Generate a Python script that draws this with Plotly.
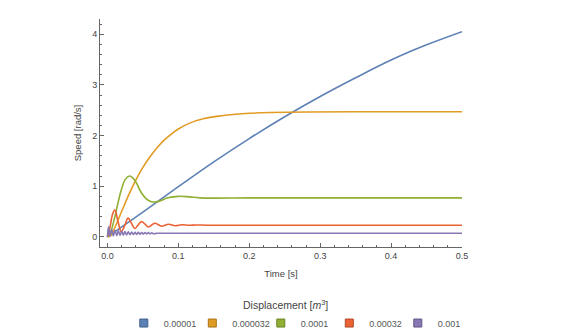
import plotly.graph_objects as go

# ---- data ----
labels = ["0.00001", "0.000032", "0.0001", "0.00032", "0.001"]
colors = ["#5E81B5", "#E19C24", "#8FB032", "#EB6235", "#8778B3"]
edge_colors = ["#3E5E8E", "#A8741A", "#6A8424", "#B04826", "#625587"]

t_blue = [0, 0.05, 0.1, 0.15, 0.2, 0.25, 0.3, 0.35, 0.4, 0.45, 0.5]
v_blue = [0, 0.49, 0.99, 1.48, 1.94, 2.37, 2.77, 3.14, 3.49, 3.79, 4.05]

t_orange = [0, 0.005, 0.01, 0.02, 0.03, 0.04, 0.05, 0.06, 0.07, 0.08, 0.09, 0.1,
            0.115, 0.135, 0.16, 0.18, 0.2, 0.23, 0.28, 0.35, 0.5]
v_orange = [0, 0.03, 0.17, 0.50, 0.83, 1.12, 1.37, 1.58, 1.76, 1.91, 2.03, 2.13,
            2.24, 2.33, 2.39, 2.42, 2.44, 2.455, 2.465, 2.47, 2.47]

t_green = [0, 0.005, 0.01, 0.015, 0.02, 0.025, 0.031, 0.036, 0.041, 0.047, 0.054,
           0.061, 0.068, 0.076, 0.085, 0.1, 0.115, 0.13, 0.15, 0.2, 0.3, 0.4, 0.5]
v_green = [0, 0.12, 0.37, 0.68, 0.95, 1.13, 1.20, 1.16, 1.06, 0.89, 0.76,
           0.70, 0.69, 0.72, 0.77, 0.80, 0.79, 0.77, 0.765, 0.77, 0.77, 0.77, 0.77]

t_red = [0, 0.004, 0.0075, 0.0105, 0.015, 0.0195, 0.024, 0.029, 0.0338, 0.0385,
         0.043, 0.048, 0.053, 0.0575, 0.062, 0.067, 0.072, 0.0765, 0.086, 0.0955,
         0.105, 0.115, 0.125, 0.14, 0.2, 0.3, 0.4, 0.5]
v_red = [0, 0.22, 0.46, 0.53, 0.30, 0.10, 0.21, 0.37, 0.27, 0.165,
         0.23, 0.30, 0.25, 0.195, 0.23, 0.27, 0.24, 0.21, 0.25, 0.22,
         0.24, 0.228, 0.235, 0.23, 0.23, 0.23, 0.23, 0.23]

t_purple = [0, 0.0015, 0.0035, 0.006, 0.0083, 0.0107, 0.013, 0.0154, 0.0177, 0.0201,
            0.0224, 0.0248, 0.0271, 0.0295, 0.0318, 0.0342, 0.0365, 0.0389, 0.0412,
            0.0436, 0.0459, 0.0483, 0.0506, 0.053, 0.0553, 0.0577, 0.06, 0.0624,
            0.0647, 0.07, 0.1, 0.2, 0.3, 0.4, 0.5]
v_purple = [0, 0.20, 0.01, 0.15, 0.02, 0.13, 0.025, 0.12, 0.03, 0.11,
            0.035, 0.105, 0.04, 0.10, 0.045, 0.095, 0.048, 0.092, 0.05,
            0.09, 0.053, 0.087, 0.055, 0.085, 0.057, 0.083, 0.06, 0.08,
            0.062, 0.07, 0.07, 0.07, 0.07, 0.07, 0.07]

series_t = [t_blue, t_orange, t_green, t_red, t_purple]
series_v = [v_blue, v_orange, v_green, v_red, v_purple]

x_ticks = [0, 0.1, 0.2, 0.3, 0.4, 0.5]
x_ticklabels = ["0.0", "0.1", "0.2", "0.3", "0.4", "0.5"]
y_ticks = [0, 1, 2, 3, 4]

FONT = "Liberation Sans, Arial, sans-serif"
TXT = "#444444"
AX = "#666666"

fig = go.Figure()
for t, v, c in zip(series_t, series_v, colors):
    fig.add_trace(go.Scatter(x=t, y=v, mode="lines", line=dict(color=c, width=1.6, shape="spline"),
                             showlegend=False, hoverinfo="skip"))
for lab, c, ec in zip(labels, colors, edge_colors):
    fig.add_trace(go.Scatter(x=[None], y=[None], mode="markers", name=lab,
                             marker=dict(symbol="square", size=8, color=c, line=dict(color=ec, width=1))))

fig.update_layout(
    width=570, height=335,
    margin=dict(l=100, r=108, t=19, b=88, autoexpand=False),
    paper_bgcolor="white", plot_bgcolor="white",
    font=dict(family=FONT, color=TXT, size=9),
    xaxis=dict(range=[-0.0105, 0.5], showgrid=False, zeroline=False,
               showline=True, linecolor=AX, linewidth=1,
               ticks="inside", ticklen=4, tickcolor=AX, tickwidth=1,
               tickvals=x_ticks, ticktext=x_ticklabels,
               tickfont=dict(size=9, color=TXT),
               minor=dict(dtick=0.02, tick0=0, ticks="inside", ticklen=2, tickcolor=AX, showgrid=False),
               title=dict(text="Time [s]", font=dict(size=9.5, color=TXT), standoff=10),
               automargin=False),
    yaxis=dict(range=[-0.2, 4.3], showgrid=False, zeroline=False,
               showline=True, linecolor=AX, linewidth=1,
               ticks="inside", ticklen=4, tickcolor=AX, tickwidth=1,
               tickvals=y_ticks,
               tickfont=dict(size=9, color=TXT),
               minor=dict(dtick=0.2, tick0=0, ticks="inside", ticklen=2, tickcolor=AX, showgrid=False),
               title=dict(text="Speed [rad/s]", font=dict(size=9.5, color=TXT), standoff=8),
               automargin=False),
    legend=dict(orientation="h", xref="container", yref="container",
                x=0.2172, xanchor="left", y=0.079, yanchor="top",
                font=dict(size=9, color="#555555"), itemwidth=30,
                entrywidth=23.5, entrywidthmode="pixels",
                bgcolor="rgba(0,0,0,0)"),
    annotations=[dict(text="Displacement [<i>m</i><sup>3</sup>]", xref="paper", yref="paper",
                      x=0.5, y=0, xanchor="center", yanchor="middle",
                      yshift=-(304 - 246.7), xshift=4, showarrow=False,
                      font=dict(size=10.5, color=TXT))],
)

fig.write_html("out.html")
